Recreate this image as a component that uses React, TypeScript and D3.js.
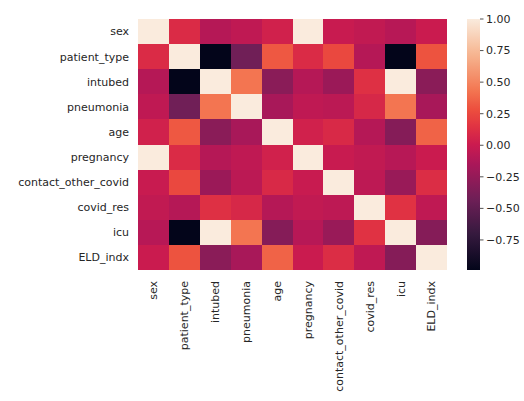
import React from "react";
import * as d3 from "d3";

const labels = ["sex", "patient_type", "intubed", "pneumonia", "age", "pregnancy", "contact_other_covid", "covid_res", "icu", "ELD_indx"];

const sexRow = [1, 0.10, -0.10, -0.05, 0.04, 1, -0.01, -0.04, -0.09, 0.0];
const patientTypeRow = [0.10, 1, -0.988, -0.42, 0.32, 0.10, 0.25, -0.10, -0.988, 0.30];
const intubedRow = [-0.10, -0.988, 1, 0.43, -0.30, -0.10, -0.22, 0.13, 1, -0.30];
const pneumoniaRow = [-0.05, -0.42, 0.43, 1, -0.16, -0.05, -0.07, 0.08, 0.43, -0.16];
const ageRow = [0.04, 0.32, -0.30, -0.16, 1, 0.04, 0.09, -0.10, -0.32, 0.36];
const pregnancyRow = [1, 0.10, -0.10, -0.05, 0.04, 1, -0.01, -0.04, -0.09, 0.0];
const contactRow = [-0.01, 0.25, -0.22, -0.07, 0.09, -0.01, 1, -0.06, -0.23, 0.11];
const covidResRow = [-0.04, -0.10, 0.13, 0.08, -0.10, -0.04, -0.06, 1, 0.14, -0.05];
const icuRow = [-0.09, -0.988, 1, 0.43, -0.32, -0.09, -0.23, 0.14, 1, -0.32];
const eldRow = [0.0, 0.30, -0.30, -0.16, 0.36, 0.0, 0.11, -0.05, -0.32, 1];

const matrix = [sexRow, patientTypeRow, intubedRow, pneumoniaRow, ageRow, pregnancyRow, contactRow, covidResRow, icuRow, eldRow];

const cbTicks = [1.0, 0.75, 0.5, 0.25, 0.0, -0.25, -0.5, -0.75];

const rocketPos = [0, 1 / 7, 2 / 7, 3 / 7, 0.5, 4 / 7, 9 / 14, 5 / 7, 6 / 7, 1];
const rocketStops = ["#03051a", "#35193e", "#701f57", "#ad1759", "#cb1b4f", "#e13342", "#ed503e", "#f37651", "#f6b48f", "#faebdd"];

export default function App() {
  const W = 524, H = 401;
  const left = 138, right = 447, top = 19, bottom = 270;
  const allVals = matrix.flat();
  const vmin = d3.min(allVals) as number;
  const vmax = d3.max(allVals) as number;
  const interp = d3.scaleLinear<string>().domain(rocketPos).range(rocketStops).interpolate(d3.interpolateRgb).clamp(true);
  const norm = d3.scaleLinear().domain([vmin, vmax]).range([0, 1]);
  const color = (v: number) => interp(norm(v));

  const x = d3.scaleBand<string>().domain(labels).range([left, right]).padding(0);
  const y = d3.scaleBand<string>().domain(labels).range([top, bottom]).padding(0);

  const cbX = 467, cbW = 13;
  const cbScale = d3.scaleLinear().domain([vmin, vmax]).range([bottom, top]);
  const gradStops = d3.range(0, 1.0001, 0.02);
  const font = "DejaVu Sans, sans-serif";
  const textColor = "#262626";
  const fs = 11;

  return (
    <svg width={W} height={H} style={{ position: "absolute", left: 0, top: 0, background: "#fff" }}>
      <defs>
        <linearGradient id="cbgrad" x1="0" y1="1" x2="0" y2="0">
          {gradStops.map((t, i) => (
            <stop key={i} offset={t} stopColor={interp(t)} />
          ))}
        </linearGradient>
      </defs>
      <g shapeRendering="crispEdges">
        {matrix.map((row, i) =>
          row.map((v, j) => (
            <rect
              key={`${i}-${j}`}
              x={x(labels[j])}
              y={y(labels[i])}
              width={x.bandwidth() + 0.3}
              height={y.bandwidth() + 0.3}
              fill={color(v)}
            />
          ))
        )}
      </g>
      {labels.map((l) => (
        <text
          key={"y" + l}
          x={left - 9}
          y={(y(l) as number) + y.bandwidth() / 2}
          dy="0.35em"
          textAnchor="end"
          fontFamily={font}
          fontSize={fs}
          fill={textColor}
        >
          {l}
        </text>
      ))}
      {labels.map((l) => (
        <text
          key={"x" + l}
          transform={`translate(${(x(l) as number) + x.bandwidth() / 2},${bottom + 11}) rotate(-90)`}
          dy="0.35em"
          textAnchor="end"
          fontFamily={font}
          fontSize={fs}
          fill={textColor}
        >
          {l}
        </text>
      ))}
      <rect x={cbX} y={top} width={cbW} height={bottom - top} fill="url(#cbgrad)" />
      {cbTicks.map((t) => (
        <g key={"cb" + t}>
          <line x1={cbX + cbW} x2={cbX + cbW + 3.5} y1={cbScale(t)} y2={cbScale(t)} stroke={textColor} strokeWidth={0.8} />
          <text
            x={cbX + cbW + 6}
            y={cbScale(t)}
            dy="0.35em"
            fontFamily={font}
            fontSize={fs}
            fill={textColor}
          >
            {t < 0 ? "\u2212" + Math.abs(t).toFixed(2) : t.toFixed(2)}
          </text>
        </g>
      ))}
    </svg>
  );
}
